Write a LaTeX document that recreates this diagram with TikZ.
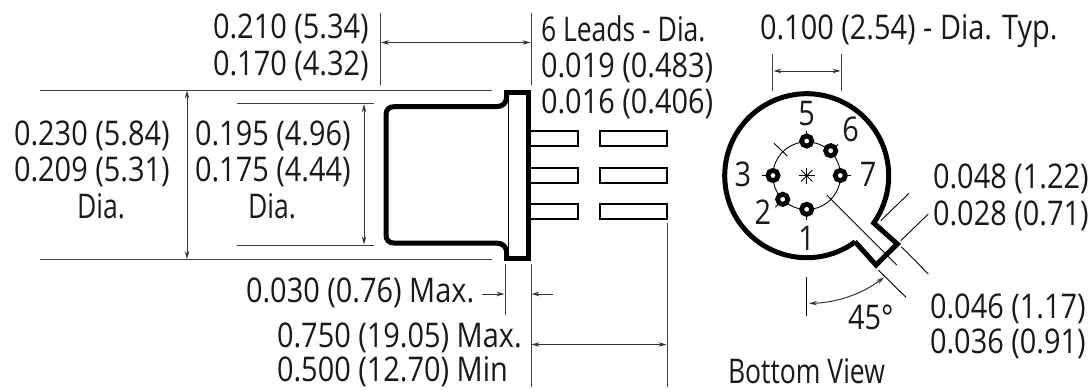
\documentclass[tikz,border=0pt]{standalone}
\usepackage{fontspec}
\setmainfont{Open Sans}[FakeStretch=0.85]
\newfontfamily\narrowf{Open Sans}[FakeStretch=0.78]
\usetikzlibrary{arrows.meta}
\tikzset{
  lbl/.style={inner sep=0pt,outer sep=0pt,font=\fontsize{34}{40}\selectfont,text=black!90,anchor=base west},
  lblc/.style={lbl,anchor=base},
  thick outline/.style={draw=black,line width=5pt,line join=miter},
  leadline/.style={draw=black,line width=2pt},
  thinline/.style={draw=black,line width=0.9pt},
  ext/.style={draw=black!75,line width=1pt},
  dim/.style={draw=black!80,line width=1pt,{Stealth[length=8pt,width=4.5pt]}-{Stealth[length=8pt,width=4.5pt]}},
  dimr/.style={draw=black!80,line width=1pt,-{Stealth[length=8pt,width=4.5pt]}},
  pin/.style={circle,draw=black,line width=4.8pt,fill=white,minimum size=10.2pt,inner sep=0pt,outer sep=0pt},
}
\begin{document}
\begin{tikzpicture}[x=1pt,y=-1pt]
\useasboundingbox (0,0) rectangle (1089,389);
% side view
\draw[thick outline] (506.7,92) -- (506.7,96) .. controls (506.7,103) and (503,106.7) .. (496,106.7)
  -- (394,106.7) .. controls (389,106.7) and (386,109.7) .. (386,114.7) -- (386,235)
  .. controls (386,240) and (389,243) .. (394,243) -- (496,243) .. controls (503,243) and (506.7,247) .. (506.7,253) -- (506.7,258);
\draw[thick outline] (506.7,253) -- (506.7,258) -- (528.7,258) -- (528.7,92) -- (506.7,92) -- (506.7,97);
\draw[draw=black,line width=1.8pt] (508.5,98) -- (508.5,252);
% leads
\foreach \yy in {131,168,204}{
  \draw[leadline] (531,\yy) -- (577.5,\yy) -- (577.5,\yy+15) -- (531,\yy+15);
  \draw[leadline] (599.5,\yy) rectangle (666.5,\yy+15);
}
% extension lines
\coordinate (a1) at (380,13); \coordinate (a2) at (380,85);
\coordinate (b1) at (531,13); \coordinate (b2) at (531,85);
\draw[ext] (a1) -- (a2); \draw[ext] (b1) -- (b2);
\coordinate (a3) at (381,42.5); \coordinate (b3) at (530.5,42.5);
\draw[dim] (a3) -- (b3);
\coordinate (t1) at (40,90); \coordinate (t2) at (492,90);
\coordinate (u1) at (40,259.5); \coordinate (u2) at (492,259.5);
\draw[ext] (t1) -- (t2); \draw[ext] (u1) -- (u2);
\coordinate (t3) at (237,103.7); \coordinate (t4) at (374,103.7);
\coordinate (u3) at (237,245); \coordinate (u4) at (374,245);
\draw[ext] (t3) -- (t4); \draw[ext] (u3) -- (u4);
\coordinate (d1) at (187,90.5); \coordinate (d2) at (187,259);
\draw[dim] (d1) -- (d2);
\coordinate (e1) at (364,104.2); \coordinate (e2) at (364,244.5);
\draw[dim] (e1) -- (e2);
\coordinate (f1) at (505,264); \coordinate (f2) at (505,315);
\coordinate (g1) at (531,264); \coordinate (g2) at (531,387);
\coordinate (h1) at (667,223); \coordinate (h2) at (667,387);
\draw[ext] (f1) -- (f2); \draw[ext] (g1) -- (g2); \draw[ext] (h1) -- (h2);
\coordinate (i1) at (482,294); \coordinate (i2) at (504.5,294);
\coordinate (j1) at (553,294); \coordinate (j2) at (531.5,294);
\draw[dimr] (i1) -- (i2); \draw[dimr] (j1) -- (j2);
\coordinate (k1) at (531.5,344.5); \coordinate (k2) at (666.5,344.5);
\draw[dim] (k1) -- (k2);
% labels side view
\node[lbl] (n1) at (213,38) {0.210 (5.34)};
\node[lbl] (n2) at (213,75) {0.170 (4.32)};
\node[lbl] (n3) at (541,41) {\narrowf 6 Leads - Dia.};
\node[lbl] (n4) at (541,77) {0.019 (0.483)};
\node[lbl] (n5) at (541,113) {0.016 (0.406)};
\node[lbl] (n6) at (14,145.7) {0.230 (5.84)};
\node[lbl] (n7) at (14,181.7) {0.209 (5.31)};
\node[lblc] (n8) at (101,218) {\narrowf Dia.};
\node[lbl] (n9) at (195,145.7) {0.195 (4.96)};
\node[lbl] (n10) at (195,181.7) {0.175 (4.44)};
\node[lblc] (n11) at (272,218) {\narrowf Dia.};
\node[lbl] (n12) at (246,302) {0.030 (0.76) Max.};
\node[lbl] (n13) at (277,347) {0.750 (19.05) Max.};
\node[lbl] (n14) at (277,381) {0.500 (12.70) Min};
% bottom view
\draw[thick outline] plot[domain=53.8:395.2,samples=120] ({806.7+82*cos(\x)},{175.7+82*sin(\x)})
  -- (897.3,244) -- (876,265) -- (855,241.7) -- cycle;
\coordinate (c) at (806.7,175.7);
\draw[thinline] (c) circle (33.8);
\foreach \ang in {0,90,135,180,270,315}{
  \draw[thinline] ({806.7+29*cos(\ang)},{175.7+29*sin(\ang)}) -- ({806.7+44.5*cos(\ang)},{175.7+44.5*sin(\ang)});
}
\foreach \nm/\px/\py in {p5/806.7/141,p3/773/175.5,p7/840.3/175.5,p1/806.7/209.3,p6/830.7/150.7,p2/782.7/199.3}{
  \node[pin] (\nm) at (\px,\py) {};
}
% tick at NW and centre line
\coordinate (w1) at (774,143.3); \coordinate (w2) at (787.3,156);
\draw[thinline] (w1) -- (w2);
\coordinate (w3) at (826.7,195); \coordinate (w4) at (896.7,265);
\draw[thinline] (w3) -- (w4);
% asterisk
\foreach \ang in {0,45,90,135}{
  \draw[thinline] ({806.7-8*cos(\ang)},{175.7-8*sin(\ang)}) -- ({806.7+8*cos(\ang)},{175.7+8*sin(\ang)});
}
% tab dimension lines
\coordinate (x1) at (880.7,220.7); \coordinate (x2) at (909,193.3);
\coordinate (x3) at (900.7,240.7); \coordinate (x4) at (928.3,214);
\coordinate (x5) at (901.3,246.7); \coordinate (x6) at (928.3,274);
\coordinate (x7) at (878.3,270);   \coordinate (x8) at (906,297.3);
\coordinate (x9) at (806.7,277.3); \coordinate (x10) at (806.7,316);
\foreach \s/\t in {x1/x2,x3/x4,x5/x6,x7/x8,x9/x10}{\draw[thinline] (\s) -- (\t);}
\coordinate (y1) at (809,303.3); \coordinate (y2) at (884,277.3);
\draw[dim] (y1) .. controls (836.2,302.8) and (862.4,293.8) .. (y2);
% top pitch
\coordinate (z1) at (772.7,54); \coordinate (z2) at (772.7,91);
\coordinate (z3) at (841,54); \coordinate (z4) at (841,91);
\draw[ext] (z1) -- (z2); \draw[ext] (z3) -- (z4);
\coordinate (z5) at (773.5,71); \coordinate (z6) at (840.5,71);
\draw[dim] (z5) -- (z6);
% labels bottom view
\node[lbl] (m1) at (760,39) {0.100 (2.54) - Dia. Typ.};
\node[lblc] (m5) at (806.7,125) {5};
\node[lblc] (m6) at (850.7,141.7) {6};
\node[lblc] (m3) at (743,186.7) {3};
\node[lblc] (m7) at (868,186.7) {7};
\node[lblc] (m2) at (763,224) {2};
\node[lblc] (m4) at (806.7,250) {1};
\node[lbl] (m8) at (933,188) {0.048 (1.22)};
\node[lbl] (m9) at (933,225) {0.028 (0.71)};
\node[lbl] (m10) at (848,329) {45°};
\node[lbl] (m11) at (930,318) {0.046 (1.17)};
\node[lbl] (m12) at (930,353) {0.036 (0.91)};
\node[lbl] (m13) at (728,383) {\narrowf Bottom View};
\end{tikzpicture}
\end{document}
